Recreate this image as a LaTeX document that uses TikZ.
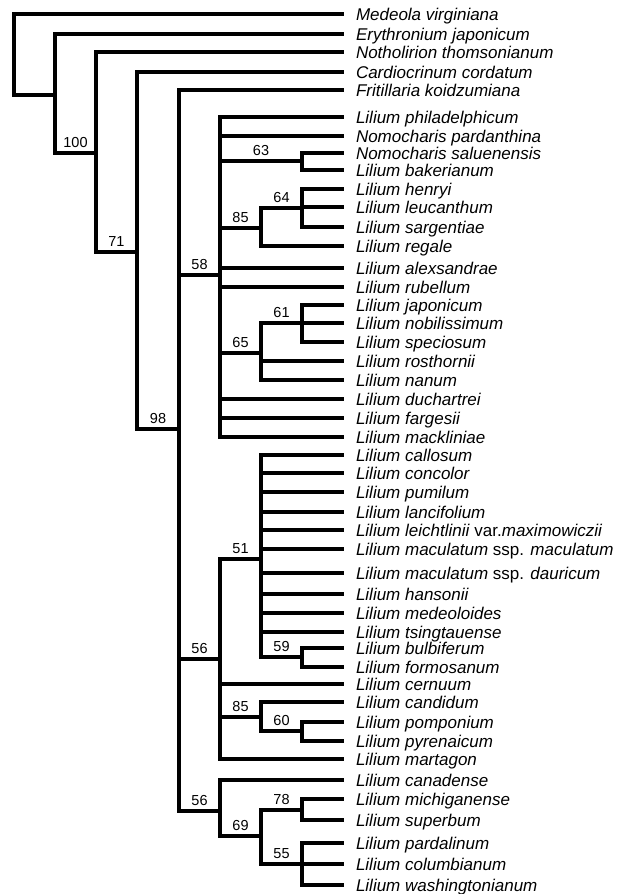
\documentclass[tikz,border=0pt]{standalone}
\usepackage{fontspec}
\setmainfont{Liberation Sans}

\begin{document}
\begin{tikzpicture}[x=1pt, y=-1pt, line width=3.4pt,
  tx/.style={anchor=west, inner sep=0pt, outer xsep=12pt, text height=12pt, text depth=0pt, font=\fontsize{17}{20}\selectfont\itshape},
  bs/.style={above, pos=.75, inner sep=3.5pt, text depth=0pt, font=\fontsize{14.5}{16}\selectfont}]
\useasboundingbox (0,0) rectangle (621,894);
\node[tx] (t1) at (344,14) {Medeola virginiana};
\node[tx] (t2) at (344,34) {Erythronium japonicum};
\node[tx] (t3) at (344,52) {Notholirion thomsonianum};
\node[tx] (t4) at (344,72) {Cardiocrinum cordatum};
\node[tx] (t5) at (344,90) {Fritillaria koidzumiana};
\node[tx] (t6) at (344,117) {Lilium philadelphicum};
\node[tx] (t7) at (344,136) {Nomocharis pardanthina};
\node[tx] (t8) at (344,153) {Nomocharis saluenensis};
\node[tx] (t9) at (344,170) {Lilium bakerianum};
\node[tx] (t10) at (344,189) {Lilium henryi};
\node[tx] (t11) at (344,207) {Lilium leucanthum};
\node[tx] (t12) at (344,227) {Lilium sargentiae};
\node[tx] (t13) at (344,246) {Lilium regale};
\node[tx] (t14) at (344,268) {Lilium alexsandrae};
\node[tx] (t15) at (344,287) {Lilium rubellum};
\node[tx] (t16) at (344,305) {Lilium japonicum};
\node[tx] (t17) at (344,323) {Lilium nobilissimum};
\node[tx] (t18) at (344,342) {Lilium speciosum};
\node[tx] (t19) at (344,361) {Lilium rosthornii};
\node[tx] (t20) at (344,380) {Lilium nanum};
\node[tx] (t21) at (344,399) {Lilium duchartrei};
\node[tx] (t22) at (344,418) {Lilium fargesii};
\node[tx] (t23) at (344,437) {Lilium mackliniae};
\node[tx] (t24) at (344,455) {Lilium callosum};
\node[tx] (t25) at (344,473) {Lilium concolor};
\node[tx] (t26) at (344,492) {Lilium pumilum};
\node[tx] (t27) at (344,512) {Lilium lancifolium};
\node[tx] (t28) at (344,530) {Lilium leichtlinii \textup{var.}maximowiczii};
\node[tx] (t29) at (344,549) {Lilium maculatum \textup{ssp.} maculatum};
\node[tx] (t30) at (344,573) {Lilium maculatum \textup{ssp.} dauricum};
\node[tx] (t31) at (344,594) {Lilium hansonii};
\node[tx] (t32) at (344,613) {Lilium medeoloides};
\node[tx] (t33) at (344,632) {Lilium tsingtauense};
\node[tx] (t34) at (344,648) {Lilium bulbiferum};
\node[tx] (t35) at (344,667) {Lilium formosanum};
\node[tx] (t36) at (344,684) {Lilium cernuum};
\node[tx] (t37) at (344,702) {Lilium candidum};
\node[tx] (t38) at (344,722) {Lilium pomponium};
\node[tx] (t39) at (344,741) {Lilium pyrenaicum};
\node[tx] (t40) at (344,759) {Lilium martagon};
\node[tx] (t41) at (344,780) {Lilium canadense};
\node[tx] (t42) at (344,799) {Lilium michiganense};
\node[tx] (t43) at (344,820) {Lilium superbum};
\node[tx] (t44) at (344,843) {Lilium pardalinum};
\node[tx] (t45) at (344,864) {Lilium columbianum};
\node[tx] (t46) at (344,885) {Lilium washingtonianum};
\coordinate (r) at (14,55);
\coordinate (a) at (55,95);
\coordinate (b) at (96,153);
\coordinate (c) at (137,252);
\coordinate (d) at (179,429);
\coordinate (e) at (220,275);
\coordinate (f) at (302,161);
\coordinate (g) at (261,228);
\coordinate (h) at (302,208);
\coordinate (i) at (261,353);
\coordinate (j) at (302,323);
\coordinate (k) at (220,659);
\coordinate (l) at (261,559);
\coordinate (m) at (302,657);
\coordinate (n) at (261,717);
\coordinate (o) at (302,731);
\coordinate (p) at (220,811);
\coordinate (q) at (261,836);
\coordinate (s) at (302,810);
\coordinate (u) at (302,864);
\draw (r) |- (t1.west); \draw (r) |- (a);
\draw (a) |- (t2.west); \draw (a) |- node[bs]{100} (b);
\draw (b) |- (t3.west); \draw (b) |- node[bs]{71} (c);
\draw (c) |- (t4.west); \draw (c) |- node[bs]{98} (d);
\draw (d) |- (t5.west); \draw (d) |- node[bs]{58} (e);
\draw (d) |- node[bs]{56} (k); \draw (d) |- node[bs]{56} (p);
\draw (e) |- (t6.west); \draw (e) |- (t7.west);
\draw (e) |- node[bs]{63} (f); \draw (e) |- node[bs]{85} (g);
\draw (e) |- (t14.west); \draw (e) |- (t15.west);
\draw (e) |- node[bs]{65} (i);
\draw (e) |- (t21.west); \draw (e) |- (t22.west); \draw (e) |- (t23.west);
\draw (f) |- (t8.west); \draw (f) |- (t9.west);
\draw (g) |- node[bs]{64} (h); \draw (g) |- (t13.west);
\draw (h) |- (t10.west); \draw (h) |- (t11.west); \draw (h) |- (t12.west);
\draw (i) |- node[bs]{61} (j); \draw (i) |- (t19.west); \draw (i) |- (t20.west);
\draw (j) |- (t16.west); \draw (j) |- (t17.west); \draw (j) |- (t18.west);
\draw (k) |- node[bs]{51} (l); \draw (k) |- (t36.west);
\draw (k) |- node[bs]{85} (n); \draw (k) |- (t40.west);
\draw (l) |- (t24.west); \draw (l) |- (t25.west); \draw (l) |- (t26.west);
\draw (l) |- (t27.west); \draw (l) |- (t28.west); \draw (l) |- (t29.west);
\draw (l) |- (t30.west); \draw (l) |- (t31.west); \draw (l) |- (t32.west);
\draw (l) |- (t33.west); \draw (l) |- node[bs]{59} (m);
\draw (m) |- (t34.west); \draw (m) |- (t35.west);
\draw (n) |- (t37.west); \draw (n) |- node[bs]{60} (o);
\draw (o) |- (t38.west); \draw (o) |- (t39.west);
\draw (p) |- (t41.west); \draw (p) |- node[bs]{69} (q);
\draw (q) |- node[bs]{78} (s); \draw (q) |- node[bs]{55} (u);
\draw (s) |- (t42.west); \draw (s) |- (t43.west);
\draw (u) |- (t44.west); \draw (u) |- (t45.west); \draw (u) |- (t46.west);
\end{tikzpicture}
\end{document}
